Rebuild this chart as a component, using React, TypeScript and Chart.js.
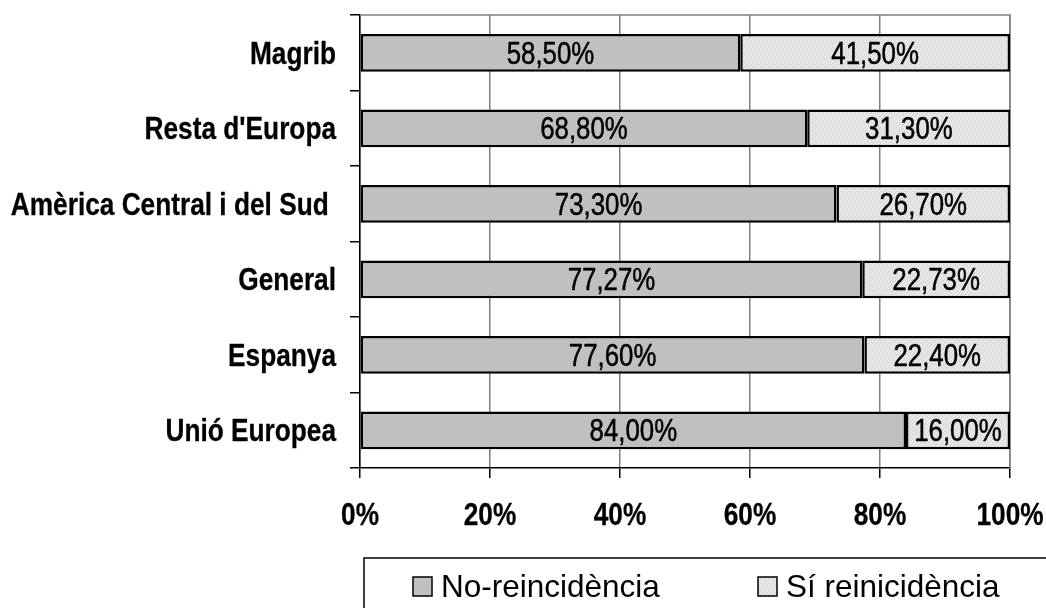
import React, { useEffect, useRef } from "react";
import { Chart, registerables } from "chart.js";

Chart.register(...registerables);

const categories = [
  "Magrib",
  "Resta d'Europa",
  "Amèrica Central i del Sud ",
  "General",
  "Espanya",
  "Unió Europea",
];
const noReincidencia = [58.5, 68.8, 73.3, 77.27, 77.6, 84.0];
const siReincidencia = [41.5, 31.3, 26.7, 22.73, 22.4, 16.0];
const seriesNames = ["No-reincidència", "Sí reinicidència"];
const xTicks = [0, 20, 40, 60, 80, 100];

const FAMILY = "'Liberation Sans', Arial, sans-serif";
const NARROW_SCALE = 0.82;

function makePattern(): CanvasPattern | string {
  const c = document.createElement("canvas");
  c.width = 4;
  c.height = 4;
  const g = c.getContext("2d");
  if (!g) return "#e0e0e0";
  g.fillStyle = "#e7e7e7";
  g.fillRect(0, 0, 4, 4);
  g.fillStyle = "#d5d5d5";
  for (let i = 0; i < 4; i++) g.fillRect(i, 3 - i, 1, 1);
  const p = g.createPattern(c, "repeat");
  return p || "#e0e0e0";
}

const fmt = (v: number) => v.toFixed(2).replace(".", ",") + "%";

function narrowText(
  ctx: CanvasRenderingContext2D,
  text: string,
  x: number,
  y: number,
  align: CanvasTextAlign,
  font: string,
  thicken: number
) {
  ctx.save();
  ctx.font = font;
  ctx.textAlign = align;
  ctx.textBaseline = "alphabetic";
  ctx.fillStyle = "#000";
  ctx.strokeStyle = "#000";
  ctx.lineJoin = "round";
  ctx.translate(x, y);
  ctx.scale(NARROW_SCALE, 1);
  ctx.fillText(text, 0, 0);
  if (thicken > 0) {
    ctx.lineWidth = thicken;
    ctx.strokeText(text, 0, 0);
  }
  ctx.restore();
}

export default function App() {
  const ref = useRef<HTMLCanvasElement | null>(null);

  useEffect(() => {
    if (!ref.current) return;
    const pattern = makePattern();
    const fills = ["#c0c0c0", pattern];

    const labelsPlugin = {
      id: "barLabels",
      afterDatasetsDraw(chart: any) {
        const ctx = chart.ctx;
        chart.data.datasets.forEach((ds: any, di: number) => {
          const meta = chart.getDatasetMeta(di);
          meta.data.forEach((el: any, i: number) => {
            const cx = (el.x + el.base) / 2;
            narrowText(ctx, fmt(ds.data[i]), cx, el.y + 11, "center", `31.5px ${FAMILY}`, 0.5);
          });
        });
      },
    };

    const framePlugin = {
      id: "frame",
      beforeDatasetsDraw(chart: any) {
        const { ctx, chartArea } = chart;
        ctx.save();
        ctx.strokeStyle = "#808080";
        ctx.lineWidth = 1.5;
        ctx.beginPath();
        ctx.moveTo(chartArea.left, chartArea.top);
        ctx.lineTo(chartArea.right, chartArea.top);
        ctx.lineTo(chartArea.right, chartArea.bottom);
        ctx.stroke();
        ctx.restore();
      },
      afterDraw(chart: any) {
        const ctx = chart.ctx;
        const xs = chart.scales.x;
        const ys = chart.scales.y;
        categories.forEach((c, i) => {
          const y = ys.getPixelForValue(i);
          narrowText(ctx, c, chart.chartArea.left - 24, y + 11, "right", `bold 32px ${FAMILY}`, 0.3);
        });
        xTicks.forEach((v) => {
          const x = xs.getPixelForValue(v);
          narrowText(ctx, v + "%", x, 525, "center", `bold 32px ${FAMILY}`, 0.3);
        });
        ctx.save();
        ctx.strokeStyle = "#000";
        ctx.lineWidth = 1.5;
        ctx.beginPath();
        ctx.moveTo(364, 620);
        ctx.lineTo(364, 558);
        ctx.lineTo(1060, 558);
        ctx.stroke();
        const items = [
          { mx: 413, tx: 441 },
          { mx: 758, tx: 786 },
        ];
        ctx.font = `31.5px ${FAMILY}`;
        ctx.textAlign = "left";
        ctx.textBaseline = "alphabetic";
        items.forEach((it, i) => {
          ctx.fillStyle = fills[i] as any;
          ctx.fillRect(it.mx, 577, 19, 19);
          ctx.strokeStyle = "#000";
          ctx.lineWidth = 1.5;
          ctx.strokeRect(it.mx, 577, 19, 19);
          ctx.fillStyle = "#000";
          ctx.fillText(seriesNames[i], it.tx, 597);
        });
        ctx.restore();
      },
    };

    const chart = new Chart(ref.current, {
      type: "bar",
      data: {
        labels: categories,
        datasets: [
          {
            label: seriesNames[0],
            data: noReincidencia,
            backgroundColor: fills[0] as any,
            borderColor: "#000",
            borderWidth: 2.5,
            borderSkipped: false,
            barPercentage: 0.5,
            categoryPercentage: 1.0,
          },
          {
            label: seriesNames[1],
            data: siReincidencia,
            backgroundColor: fills[1] as any,
            borderColor: "#000",
            borderWidth: 2.5,
            borderSkipped: false,
            barPercentage: 0.5,
            categoryPercentage: 1.0,
          },
        ],
      },
      options: {
        indexAxis: "y",
        responsive: false,
        animation: false,
        layout: { padding: { left: 0, top: 15, right: 36, bottom: 0 } },
        plugins: {
          legend: { display: false },
          tooltip: { enabled: false },
        },
        scales: {
          x: {
            stacked: true,
            min: 0,
            max: 100,
            afterBuildTicks: (scale: any) => {
              scale.ticks = xTicks.map((v) => ({ value: v }));
            },
            afterFit: (scale: any) => {
              scale.height = 140;
              scale.paddingLeft = 0;
              scale.paddingRight = 0;
            },
            ticks: { display: false },
            grid: {
              color: "#808080",
              lineWidth: 1.5,
              tickLength: 10,
              tickColor: "#000",
            },
            border: { display: true, color: "#000", width: 1.5 },
          },
          y: {
            stacked: true,
            afterFit: (scale: any) => {
              scale.width = 360;
              scale.paddingTop = 0;
              scale.paddingBottom = 0;
            },
            ticks: { display: false },
            grid: {
              offset: true,
              drawOnChartArea: false,
              tickLength: 10,
              color: "#000",
              lineWidth: 1.5,
            },
            border: { display: true, color: "#000", width: 1.5 },
          },
        },
      },
      plugins: [framePlugin, labelsPlugin],
    } as any);

    return () => chart.destroy();
  }, []);

  return (
    <div style={{ position: "fixed", left: 0, top: 0, width: 1046, height: 608, background: "#fff" }}>
      <canvas ref={ref} width={1046} height={608} style={{ display: "block" }} />
    </div>
  );
}
